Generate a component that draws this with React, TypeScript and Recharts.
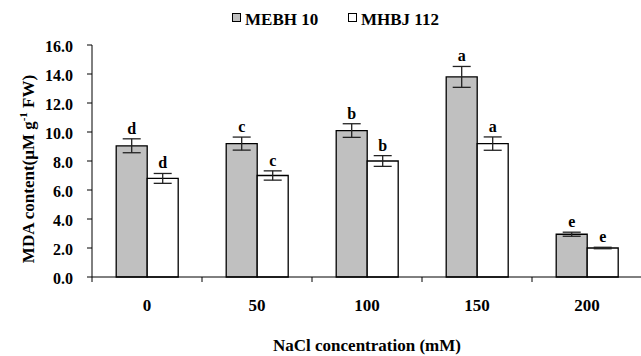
import {
  BarChart,
  Bar,
  XAxis,
  YAxis,
  Legend,
  ErrorBar,
  LabelList,
} from 'recharts';

const categories = ['0', '50', '100', '150', '200'];
const mebh = [9.05, 9.2, 10.1, 13.8, 2.95];
const mebhErr = [0.48, 0.45, 0.47, 0.72, 0.14];
const mebhLetters = ['d', 'c', 'b', 'a', 'e'];
const mhbj = [6.8, 7.0, 8.0, 9.2, 2.0];
const mhbjErr = [0.34, 0.32, 0.37, 0.46, 0.05];
const mhbjLetters = ['d', 'c', 'b', 'a', 'e'];
const yTicks = [0, 2, 4, 6, 8, 10, 12, 14, 16];

const data = categories.map((c, i) => ({
  nacl: c,
  mebh: mebh[i],
  mebhErr: mebhErr[i],
  mhbj: mhbj[i],
  mhbjErr: mhbjErr[i],
}));

const FONT = "'Liberation Serif', 'Times New Roman', serif";
const W = 641;
const H = 356;
const LEGEND_H = 32;
const MARGIN = { top: 45 - LEGEND_H, right: -1, bottom: 0, left: 12 };
const Y_AXIS_W = 80;
const HALF_BAND = (W - MARGIN.left - MARGIN.right - Y_AXIS_W) / categories.length / 2;

const CatTick = ({ x, y, payload }: any) => (
  <g>
    <line x1={x - HALF_BAND} y1={y} x2={x - HALF_BAND} y2={y + 5} stroke="#000" strokeWidth={1} />
    <text x={x} y={y + 34} textAnchor="middle" fontFamily={FONT} fontWeight="bold" fontSize={17} fill="#000">
      {payload.value}
    </text>
  </g>
);

const ValTick = ({ x, y, payload }: any) => (
  <text x={x} y={y} dy={7} textAnchor="end" fontFamily={FONT} fontWeight="bold" fontSize={16} fill="#000">
    {Number(payload.value).toFixed(1)}
  </text>
);

const letterLabel = (values: number[], letters: string[], errs: number[]) => (props: any) => {
  const { x, y, width, height, index } = props;
  const pxPerUnit = height / values[index];
  const top = y - errs[index] * pxPerUnit;
  return (
    <text x={x + width / 2} y={top - 5} textAnchor="middle" fontFamily={FONT} fontWeight="bold" fontSize={16} fill="#000">
      {letters[index]}
    </text>
  );
};

const legendItems = [
  { name: 'MEBH 10', fill: '#c0c0c0', x: 232 },
  { name: 'MHBJ 112', fill: '#fff', x: 348 },
];

const LegendContent = () => (
  <svg width={W} height={LEGEND_H} style={{ display: 'block' }}>
    {legendItems.map((it) => (
      <g key={it.name}>
        <rect x={it.x + 0.5} y={13.5} width={8} height={8} fill={it.fill} stroke="#000" strokeWidth={1} />
        <text x={it.x + 13} y={24.5} fontFamily={FONT} fontWeight="bold" fontSize={17} fill="#000">
          {it.name}
        </text>
      </g>
    ))}
  </svg>
);

const YLabel = () => (
  <text
    transform="translate(34, 169) rotate(-90)"
    textAnchor="middle"
    fontFamily={FONT}
    fontWeight="bold"
    fontSize={17}
    fill="#000"
  >
    MDA content(μM g<tspan dy={-7} fontSize={11}>-1</tspan>
    <tspan dy={7}> FW)</tspan>
  </text>
);

const XLabel = ({ viewBox }: any) => (
  <text
    x={viewBox.x + viewBox.width / 2}
    y={351}
    textAnchor="middle"
    fontFamily={FONT}
    fontWeight="bold"
    fontSize={17}
    fill="#000"
  >
    NaCl concentration (mM)
  </text>
);

export default function App() {
  return (
    <div style={{ position: 'absolute', left: 0, top: 0, width: W, height: H, background: '#fff' }}>
      <BarChart width={W} height={H} data={data} margin={MARGIN} barCategoryGap="22%" barGap={0}>
        <Legend
          verticalAlign="top"
          align="left"
          content={<LegendContent />}
          wrapperStyle={{ top: 0, left: 0, width: W, height: LEGEND_H }}
        />
        <XAxis
          dataKey="nacl"
          height={79}
          axisLine={{ stroke: '#000', strokeWidth: 1 }}
          tickLine={false}
          tickSize={0}
          tickMargin={0}
          tick={<CatTick />}
          interval={0}
          label={<XLabel />}
        />
        <YAxis
          width={Y_AXIS_W}
          domain={[0, 16]}
          ticks={yTicks}
          interval={0}
          axisLine={{ stroke: '#000', strokeWidth: 1 }}
          tickLine={{ stroke: '#000', strokeWidth: 1 }}
          tickSize={5}
          tickMargin={14}
          tick={<ValTick />}
          label={<YLabel />}
        />
        <Bar dataKey="mebh" name="MEBH 10" fill="#c0c0c0" stroke="#000" strokeWidth={1.3} isAnimationActive={false}>
          <ErrorBar dataKey="mebhErr" width={9} stroke="#222" strokeWidth={1.3} />
          <LabelList dataKey="mebh" content={letterLabel(mebh, mebhLetters, mebhErr)} />
        </Bar>
        <Bar dataKey="mhbj" name="MHBJ 112" fill="#fff" stroke="#000" strokeWidth={1.3} isAnimationActive={false}>
          <ErrorBar dataKey="mhbjErr" width={9} stroke="#222" strokeWidth={1.3} />
          <LabelList dataKey="mhbj" content={letterLabel(mhbj, mhbjLetters, mhbjErr)} />
        </Bar>
      </BarChart>
    </div>
  );
}
